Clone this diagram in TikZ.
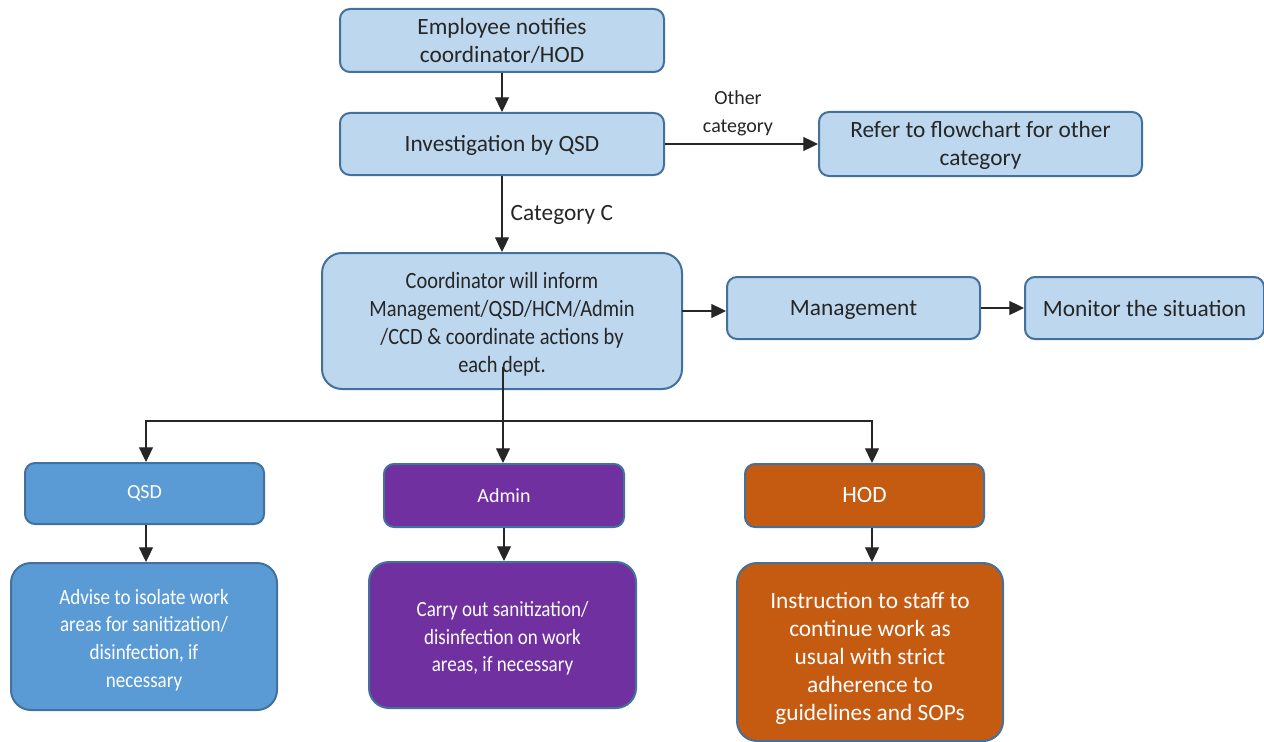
\documentclass[tikz,border=0pt]{standalone}
\usepackage{fontspec}
\setmainfont{Carlito}
\newfontfamily\condfont[FakeStretch=0.875]{Carlito}
\usetikzlibrary{arrows.meta}
\definecolor{lightbox}{HTML}{BDD7EE}
\definecolor{boxedge}{HTML}{41719C}
\definecolor{qsdblue}{HTML}{5B9BD5}
\definecolor{adminpurple}{HTML}{7030A0}
\definecolor{hodorange}{HTML}{C55A11}
\definecolor{txtdark}{HTML}{262626}
\newcommand{\topstrut}[1]{\rule{0pt}{#1}}
\begin{document}
\begin{tikzpicture}[x=0.75pt,y=-0.75pt,
  basebox/.style={draw=boxedge, line width=1.5pt, align=center, inner sep=2pt,
    font=\fontsize{17.5pt}{21pt}\selectfont},
  lightnode/.style={basebox, fill=lightbox, text=txtdark, rounded corners=7.5pt},
  bignode/.style={basebox, fill=lightbox, text=txtdark, rounded corners=15pt,
    font=\condfont\fontsize{17.5pt}{21pt}\selectfont},
  colnode/.style={basebox, text=white, rounded corners=7.5pt},
  detnode/.style={basebox, text=white, rounded corners=15pt},
  smalltxt/.style={font=\fontsize{15pt}{21pt}\selectfont},
  condtxt/.style={font=\condfont\fontsize{16.3pt}{20.8pt}\selectfont},
  conn/.style={draw=black!85, line width=0.8pt, -{Triangle[width=10.5pt,length=11pt]}},
  plain/.style={draw=black!85, line width=0.8pt},
  lbl/.style={text=txtdark, align=center, font=\fontsize{15pt}{21pt}\selectfont}]
\useasboundingbox (0,0) rectangle (1264,742);
\fill[white] (0,0) rectangle (1264,742);

\node[lightnode, minimum width=324*0.75pt, minimum height=63*0.75pt] (b1) at (502,40.5) {Employee notifies\\coordinator/HOD};
\node[lightnode, minimum width=324*0.75pt, minimum height=62*0.75pt] (b2) at (502,144) {\topstrut{15pt}Investigation by QSD};
\node[lightnode, minimum width=323*0.75pt, minimum height=64*0.75pt] (b3) at (980.5,144) {\topstrut{15pt}Refer to flowchart for other\\category};
\node[bignode, minimum width=360*0.75pt, minimum height=136*0.75pt] (b4) at (502,321) {\topstrut{17pt}Coordinator will inform\\Management/QSD/HCM/Admin\\/CCD \& coordinate actions by\\each dept.};
\node[lightnode, minimum width=253*0.75pt, minimum height=62*0.75pt] (b5) at (853.5,308) {\topstrut{15pt}Management};
\node[lightnode, minimum width=239*0.75pt, minimum height=62*0.75pt] (b6) at (1144.5,308) {Monitor the situation};

\node[colnode, smalltxt, fill=qsdblue, minimum width=239*0.75pt, minimum height=61*0.75pt] (qsd) at (144.5,493.5) {QSD};
\node[colnode, smalltxt, fill=adminpurple, minimum width=240*0.75pt, minimum height=63*0.75pt] (admin) at (504,495.5) {Admin};
\node[colnode, fill=hodorange, minimum width=239*0.75pt, minimum height=63*0.75pt] (hod) at (864.5,495.5) {HOD};

\node[detnode, condtxt, fill=qsdblue, minimum width=266*0.75pt, minimum height=147*0.75pt] (d1) at (144,636.5) {\topstrut{16.5pt}Advise to isolate work\\areas for sanitization/\\disinfection, if\\necessary};
\node[detnode, condtxt, fill=adminpurple, minimum width=267*0.75pt, minimum height=146*0.75pt] (d2) at (502.5,635) {\topstrut{16.5pt}Carry out sanitization/\\disinfection on work\\areas, if necessary};
\node[detnode, fill=hodorange, minimum width=266*0.75pt, minimum height=178*0.75pt] (d3) at (870,652) {\topstrut{21pt}Instruction to staff to\\continue work as\\usual with strict\\adherence to\\guidelines and SOPs};

% connectors
\draw[conn] (b1.south) -- (b1.south |- b2.north);
\draw[conn] (b2.east) -- (b2.east -| b3.west);
\node[lbl] (l1) at (738,113) {Other\\category};
\draw[conn] (b2.south) -- (b2.south |- b4.north);
\node[lbl, anchor=west, font=\fontsize{17.5pt}{21pt}\selectfont] (l2) at (506,215) {Category C};
\coordinate (m4) at (682,311);
\draw[conn] (m4) -- (m4 -| b5.west);
\draw[conn] (b5.east) -- (b5.east -| b6.west);

\coordinate (s0) at (503,367);
\coordinate (split) at (503,421);
\draw[plain] (s0) -- (split);
\draw[conn] (split) -| (qsd.north -| 146,0);
\draw[conn] (split) -- (split |- admin.north);
\draw[conn] (split) -| (872,0 |- hod.north);

\draw[conn] (qsd.south -| 146,0) -- (146,0 |- d1.north);
\draw[conn] (admin.south -| 504,0) -- (504,0 |- d2.north);
\draw[conn] (hod.south -| 872,0) -- (872,0 |- d3.north);
\end{tikzpicture}
\end{document}
